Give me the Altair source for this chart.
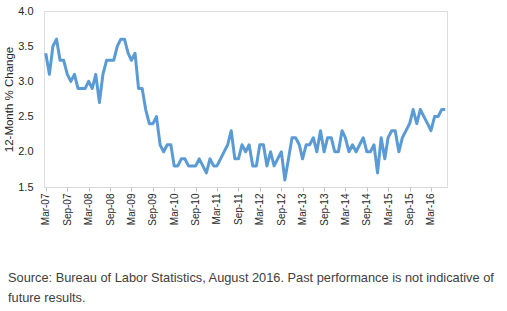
import altair as alt
import pandas as pd

# 12-month % change, monthly, Mar 2007 - Jul 2016
start_month = "2007-03-01"
pct_change = [
    3.4, 3.1, 3.5, 3.6, 3.3, 3.3, 3.1, 3.0, 3.1, 2.9, 2.9, 2.9,   # Mar-07 .. Feb-08
    3.0, 2.9, 3.1, 2.7, 3.1, 3.3, 3.3, 3.3, 3.5, 3.6, 3.6, 3.4,   # Mar-08 .. Feb-09
    3.3, 3.4, 2.9, 2.9, 2.6, 2.4, 2.4, 2.5, 2.1, 2.0, 2.1, 2.1,   # Mar-09 .. Feb-10
    1.8, 1.8, 1.9, 1.9, 1.8, 1.8, 1.8, 1.9, 1.8, 1.7, 1.9, 1.8,   # Mar-10 .. Feb-11
    1.8, 1.9, 2.0, 2.1, 2.3, 1.9, 1.9, 2.1, 2.0, 2.1, 1.8, 1.8,   # Mar-11 .. Feb-12
    2.1, 2.1, 1.8, 2.0, 1.8, 1.9, 2.0, 1.6, 1.9, 2.2, 2.2, 2.1,   # Mar-12 .. Feb-13
    1.9, 2.1, 2.1, 2.2, 2.0, 2.3, 2.0, 2.2, 2.2, 2.0, 2.0, 2.3,   # Mar-13 .. Feb-14
    2.2, 2.0, 2.1, 2.0, 2.1, 2.2, 2.0, 2.0, 2.1, 1.7, 2.2, 1.9,   # Mar-14 .. Feb-15
    2.2, 2.3, 2.3, 2.0, 2.2, 2.3, 2.4, 2.6, 2.4, 2.6, 2.5, 2.4,   # Mar-15 .. Feb-16
    2.3, 2.5, 2.5, 2.6, 2.6,                                      # Mar-16 .. Jul-16
]
x_tick_labels = ["Mar-07", "Sep-07", "Mar-08", "Sep-08", "Mar-09", "Sep-09",
                 "Mar-10", "Sep-10", "Mar-11", "Sep-11", "Mar-12", "Sep-12",
                 "Mar-13", "Sep-13", "Mar-14", "Sep-14", "Mar-15", "Sep-15",
                 "Mar-16"]
y_ticks = [1.5, 2.0, 2.5, 3.0, 3.5, 4.0]
source_lines = [
    "Source: Bureau of Labor Statistics, August 2016. Past performance is not indicative of",
    "future results.",
]

months = pd.date_range(start_month, periods=len(pct_change), freq="MS")
df = pd.DataFrame({"month": months, "value": pct_change})

tick_dates = [pd.to_datetime(lbl, format="%b-%y").strftime("%Y-%m-%d") for lbl in x_tick_labels]
x_domain = [
    (months[0] - pd.Timedelta(days=15)).strftime("%Y-%m-%d"),
    (months[-1] + pd.Timedelta(days=15)).strftime("%Y-%m-%d"),
]

FONT = "Liberation Sans"
TEXT = "#262626"

line = alt.Chart(df).mark_line(color="#5B9BD5", strokeWidth=3, strokeJoin="round").encode(
    x=alt.X(
        "month:T",
        scale=alt.Scale(domain=x_domain),
        axis=alt.Axis(
            values=tick_dates,
            format="%b-%y",
            labelAngle=270,
            labelAlign="right",
            labelBaseline="middle",
            labelFontSize=10,
            labelFont=FONT,
            labelColor=TEXT,
            labelPadding=2,
            labelOverlap=False,
            labelFlush=False,
            tickSize=4,
            tickColor="#bfbfbf",
            domainColor="#d9d9d9",
            domainWidth=1,
            grid=False,
            title=None,
        ),
    ),
    y=alt.Y(
        "value:Q",
        scale=alt.Scale(domain=[1.5, 4.0], nice=False, zero=False),
        axis=alt.Axis(
            values=y_ticks,
            format=".1f",
            labelFontSize=11,
            labelFont=FONT,
            labelColor=TEXT,
            labelPadding=11,
            ticks=False,
            domain=False,
            grid=False,
            title="12-Month % Change",
            titleFont=FONT,
            titleFontSize=11.5,
            titleFontWeight="normal",
            titleColor=TEXT,
            titlePadding=3,
        ),
    ),
)

note = alt.Chart(pd.DataFrame({"k": [0]})).mark_text(
    text=source_lines,
    align="left",
    baseline="middle",
    lineHeight=20,
    font=FONT,
    fontSize=12.8,
    color="#404040",
).encode(x=alt.value(-36), y=alt.value(267))

chart = alt.layer(line, note).properties(
    width=403,
    height=176,
    autosize=alt.AutoSizeParams(type="none"),
    padding={"left": 44, "top": 11, "right": 60, "bottom": 124},
).configure_view(stroke=None).configure(background="white")

chart.save("out.html", embed_options={"renderer": "svg", "actions": False})
